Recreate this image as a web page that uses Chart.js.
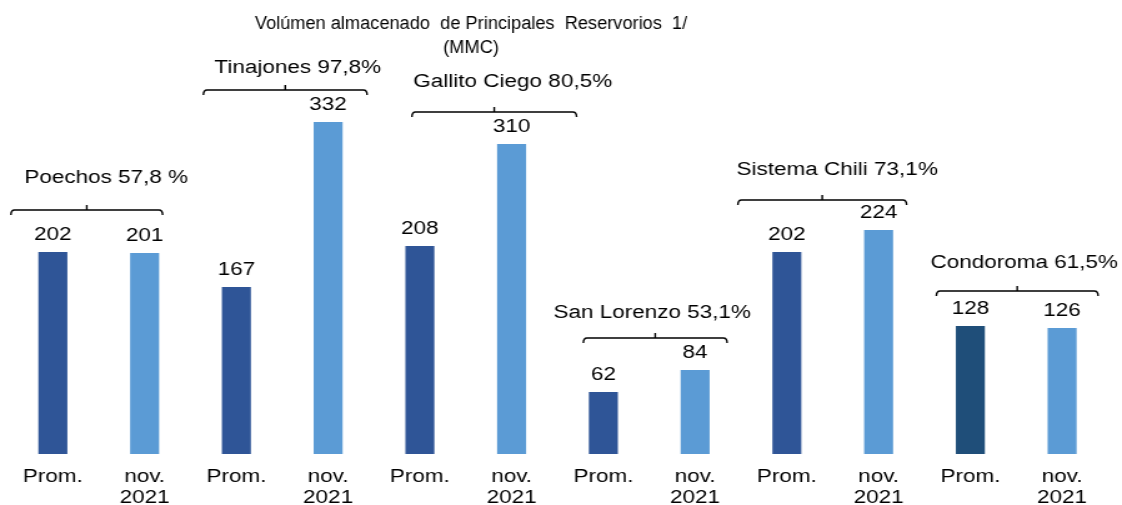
<!DOCTYPE html>
<html><head><meta charset="utf-8">
<script src="https://cdn.jsdelivr.net/npm/chart.js@4/dist/chart.umd.min.js"></script>
<style>
html,body{margin:0;padding:0;background:#fff;overflow:hidden}
#wrap{width:1122px;height:505px;overflow:hidden}
#c{transform:scale(1.2494,1);transform-origin:0 0;display:block}
</style></head><body>
<div id="wrap"><canvas id="c" width="898" height="505"></canvas></div>
<script>
// ---- data ----
const categories = ['Prom.', ['nov.','2021'], 'Prom.', ['nov.','2021'], 'Prom.', ['nov.','2021'],
                    'Prom.', ['nov.','2021'], 'Prom.', ['nov.','2021'], 'Prom.', ['nov.','2021']];
const values = [202, 201, 167, 332, 208, 310, 62, 84, 202, 224, 128, 126];
const reservoirs = ['Poechos', 'Tinajones', 'Gallito Ciego', 'San Lorenzo', 'Sistema Chili', 'Condoroma'];
const percents = ['57,8 %', '97,8%', '80,5%', '53,1%', '73,1%', '61,5%'];
const titleLines = ['Volúmen almacenado  de Principales  Reservorios  1/', '(MMC)'];

// ---- styles ----
const barColors = ['#2F5597','#5B9BD5','#2F5597','#5B9BD5','#2F5597','#5B9BD5',
                   '#2F5597','#5B9BD5','#2F5597','#5B9BD5','#1F4E79','#5B9BD5'];
const FONT = '18px "Liberation Sans", Arial, sans-serif';
// bracket layout per group (internal px): left/right offset from bar centres, label x offset
// from bracket middle, bracket height above the taller bar, label height above bracket
const groupLayout = [
  {dl:-33.6, dr:14.4, tx:15.6, by:42, ly:32},
  {dl:-26.4, dr:31.2, tx:10,   by:32, ly:22},
  {dl:-6.4,  dr:52,   tx:14.8, by:32, ly:30},
  {dl:-16,   dr:25.6, tx:-2.4, by:32, ly:25},
  {dl:-39.2, dr:22.4, tx:12,   by:30, ly:30},
  {dl:-27.2, dr:28.8, tx:5.6,  by:35, ly:28}
];

const annot = {
  id: 'annot',
  afterDatasetsDraw(chart) {
    const ctx = chart.ctx;
    const meta = chart.getDatasetMeta(0);
    ctx.save();
    ctx.font = FONT;
    ctx.fillStyle = '#000';
    ctx.textAlign = 'center';
    ctx.textBaseline = 'middle';
    meta.data.forEach((bar, i) => {
      ctx.fillText(String(values[i]), bar.x, bar.y - 17);
    });
    reservoirs.forEach((name, g) => {
      const a = meta.data[2*g], b = meta.data[2*g+1], L = groupLayout[g];
      const top = Math.min(a.y, b.y);
      const x1 = a.x + L.dl, x2 = b.x + L.dr, y = top - L.by, xm = (x1 + x2) / 2;
      ctx.strokeStyle = '#000';
      ctx.lineWidth = 1.4;
      ctx.beginPath();
      ctx.moveTo(x1, y + 5);
      ctx.quadraticCurveTo(x1, y, x1 + 3, y);
      ctx.lineTo(x2 - 3, y);
      ctx.quadraticCurveTo(x2, y, x2, y + 5);
      ctx.stroke();
      ctx.beginPath();
      ctx.moveTo(xm, y);
      ctx.lineTo(xm, y - 5);
      ctx.stroke();
      ctx.fillText(name + ' ' + percents[g], xm + L.tx, y - L.ly);
    });
    ctx.save();
    ctx.translate(377, 0);
    ctx.scale(0.81, 1);
    ctx.fillText(titleLines[0], 0, 24);
    ctx.fillText(titleLines[1], 0, 48);
    ctx.restore();
    ctx.restore();
  }
};

new Chart(document.getElementById('c'), {
  type: 'bar',
  data: {
    labels: categories,
    datasets: [{
      data: values,
      backgroundColor: barColors,
      borderWidth: 0,
      barPercentage: 0.316,
      categoryPercentage: 1
    }]
  },
  options: {
    responsive: false,
    animation: false,
    devicePixelRatio: 1,
    layout: { padding: { left: 5.6, right: 11.2, top: 0, bottom: 0 } },
    plugins: { legend: { display: false }, tooltip: { enabled: false }, title: { display: false } },
    scales: {
      x: {
        grid: { display: false, drawTicks: false },
        border: { display: false },
        afterFit(scale) { scale.height = 51; },
        ticks: {
          color: '#000',
          font: { family: '"Liberation Sans", Arial, sans-serif', size: 18, lineHeight: 1.15 },
          padding: 13,
          maxRotation: 0,
          autoSkip: false
        }
      },
      y: { display: false, min: 0, max: 454 }
    }
  },
  plugins: [annot]
});
</script>
</body></html>
